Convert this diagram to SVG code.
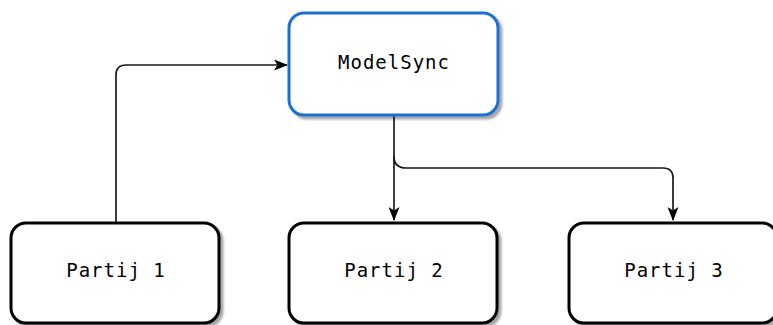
<svg xmlns="http://www.w3.org/2000/svg" width="773" height="325" viewBox="0 0 773 325">
  <defs>
    <marker id="arrow" viewBox="0 0 14 11" refX="13" refY="5.5" markerWidth="14" markerHeight="11" markerUnits="userSpaceOnUse" orient="auto">
      <path d="M0,0 L14,5.5 L0,11 L3.5,5.5 Z" fill="#000"/>
    </marker>
    <filter id="shadow" x="-10%" y="-10%" width="130%" height="130%">
      <feGaussianBlur in="SourceAlpha" stdDeviation="1.2"/>
      <feOffset dx="3" dy="3" result="b"/>
      <feComponentTransfer><feFuncA type="linear" slope="0.35"/></feComponentTransfer>
      <feMerge><feMergeNode/><feMergeNode in="SourceGraphic"/></feMerge>
    </filter>
  </defs>
  <style>
    .box { fill: #fff; stroke: #000; stroke-width: 3; filter: url(#shadow); }
    .hub { stroke: #1a6fd4; }
    .label { font-family: "DejaVu Sans Mono", "Liberation Mono", monospace; font-size: 19px; fill: #000; text-anchor: middle; dominant-baseline: central; letter-spacing: 1px; }
    .edge { fill: none; stroke: #1a1a1a; stroke-width: 1.7; marker-end: url(#arrow); }
  </style>
  <rect width="773" height="325" fill="#fff"/>

  <g id="connectors">
    <path class="edge" d="M116,222 V75 Q116,65 126,65 H287"/>
    <path class="edge" d="M394,116 V220"/>
    <path class="edge" d="M394,156 Q394,168 406,168 H663 Q673,168 673,178 V220"/>
  </g>

  <g id="modelsync">
    <rect class="box hub" x="289" y="13" width="209" height="102" rx="15"/>
    <text class="label" x="394" y="62">ModelSync</text>
  </g>
  <g id="partij1">
    <rect class="box" x="11" y="223" width="208" height="100" rx="15"/>
    <text class="label" x="116" y="270">Partij 1</text>
  </g>
  <g id="partij2">
    <rect class="box" x="289" y="223" width="208" height="100" rx="15"/>
    <text class="label" x="394" y="270">Partij 2</text>
  </g>
  <g id="partij3">
    <rect class="box" x="569" y="223" width="208" height="100" rx="15"/>
    <text class="label" x="674" y="270">Partij 3</text>
  </g>
</svg>
